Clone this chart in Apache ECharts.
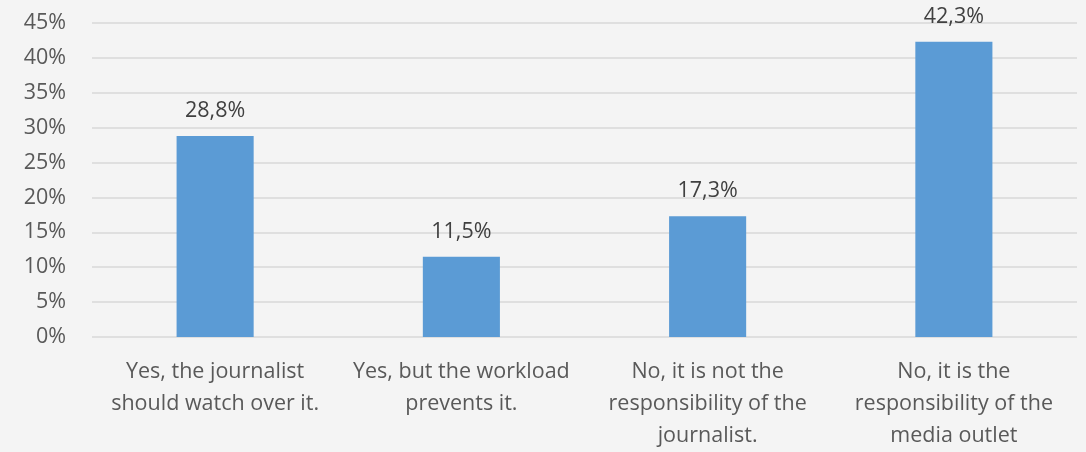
<!DOCTYPE html>
<html>
<head>
<meta charset="utf-8">
<script src="https://cdn.jsdelivr.net/npm/echarts@6/dist/echarts.min.js"></script>
<style>
html,body{margin:0;padding:0;background:#f4f4f4;}
#chart{width:1086px;height:452px;}
</style>
</head>
<body>
<div id="chart"></div>
<script>
var categories = [
  "Yes, the journalist\nshould watch over it.",
  "Yes, but the workload\nprevents it.",
  "No, it is not the\nresponsibility of the\njournalist.",
  "No, it is the\nresponsibility of the\nmedia outlet"
];
var values = [28.8, 11.5, 17.3, 42.3];
var yMin = 0, yMax = 45, yStep = 5;

var chart = echarts.init(document.getElementById('chart'));
chart.setOption({
  backgroundColor: '#f4f4f4',
  animation: false,
  textStyle: { fontFamily: 'Open Sans' },
  grid: { left: 92, right: 9, top: 23, bottom: 113, containLabel: false },
  xAxis: {
    type: 'category',
    data: categories,
    axisLine: { show: false },
    axisTick: { show: false },
    axisLabel: {
      color: '#595959', fontSize: 21.5, lineHeight: 32, margin: 19,
      interval: 0, fontFamily: 'Open Sans'
    }
  },
  yAxis: {
    type: 'value',
    min: yMin, max: yMax, interval: yStep,
    axisLine: { show: false },
    axisTick: { show: false },
    splitLine: { lineStyle: { color: '#d9d9d9', width: 1.5 } },
    axisLabel: {
      color: '#595959', fontSize: 21.5, margin: 26,
      formatter: function (v) { return v + '%'; }
    }
  },
  series: [{
    type: 'bar',
    data: values,
    barWidth: '31.3%',
    itemStyle: { color: '#5b9bd5' },
    label: {
      show: true, position: 'top', distance: 14,
      color: '#404040', fontSize: 21.5,
      formatter: function (p) { return p.value.toFixed(1).replace('.', ',') + '%'; }
    }
  }]
});
</script>
</body>
</html>
